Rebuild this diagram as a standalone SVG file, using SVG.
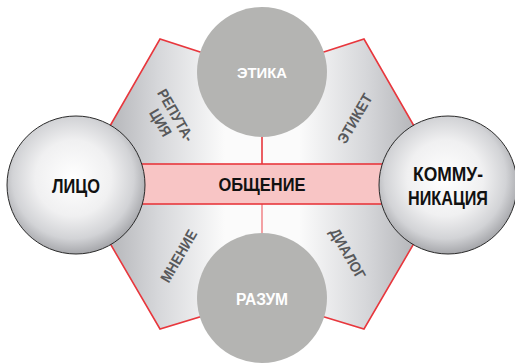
<svg xmlns="http://www.w3.org/2000/svg" width="515" height="364" viewBox="0 0 515 364">
<defs>
<linearGradient id="panelGrad" gradientUnits="userSpaceOnUse" x1="76" y1="0" x2="448" y2="0">
<stop offset="0" stop-color="#9fa0a4"/>
<stop offset="0.22" stop-color="#d6d7da"/>
<stop offset="0.4" stop-color="#fbfbfb"/>
<stop offset="0.6" stop-color="#fbfbfb"/>
<stop offset="0.78" stop-color="#d6d7da"/>
<stop offset="1" stop-color="#9fa0a4"/>
</linearGradient>
<radialGradient id="ballGrad" cx="0.48" cy="0.45" r="0.55">
<stop offset="0" stop-color="#ffffff"/>
<stop offset="0.5" stop-color="#f0f0f1"/>
<stop offset="0.8" stop-color="#d2d3d6"/>
<stop offset="1" stop-color="#a6a7ab"/>
</radialGradient>
<style>
.frame{fill:url(#panelGrad);stroke:#e8373d;stroke-width:1.6;stroke-linejoin:miter}
.link{stroke:#e8373d;stroke-width:1.6;fill:none}
.link2{stroke:#f07a7e;stroke-width:1.4;fill:none}
.band{fill:#f8c5c5;stroke:#e8373d;stroke-width:1.6}
.ball{fill:url(#ballGrad);stroke:#2a2a2a;stroke-width:1}
.gray{fill:#b4b4b2}
.t{font-family:"Liberation Sans",Arial,sans-serif;font-weight:bold;text-anchor:middle}
.dark{fill:#111111}
.white{fill:#ffffff}
.pl{fill:#58595b;font-size:15px}
</style>
</defs>
<g id="frame">
<polygon class="frame" points="262,72 364,39 448,185 364,329 262,298 160,329 76,185 160,39"/>
</g>
<g id="connectors">
<line class="link" x1="262" y1="130" x2="262" y2="164"/>
<line class="link2" x1="262" y1="204" x2="262" y2="240"/>
</g>
<g id="panel-labels">
<g id="label-reputation" transform="translate(176,115) rotate(60)">
<text class="t pl" x="0" y="5.5" textLength="58" lengthAdjust="spacingAndGlyphs">РЕПУТА-</text>
<text class="t pl" x="-1" y="22.5" textLength="29" lengthAdjust="spacingAndGlyphs">ЦИЯ</text>
</g>
<g id="label-etiket" transform="translate(354.5,118.5) rotate(-60)">
<text class="t pl" x="0" y="5.5" textLength="55" lengthAdjust="spacingAndGlyphs">ЭТИКЕТ</text>
</g>
<g id="label-mnenie" transform="translate(178.5,256) rotate(-60)">
<text class="t pl" x="0" y="5.5" textLength="58" lengthAdjust="spacingAndGlyphs">МНЕНИЕ</text>
</g>
<g id="label-dialog" transform="translate(348,253.5) rotate(60)">
<text class="t pl" x="0" y="5.5" textLength="56" lengthAdjust="spacingAndGlyphs">ДИАЛОГ</text>
</g>
</g>
<g id="obshchenie">
<rect class="band" x="130" y="164" width="264" height="40"/>
<text class="t dark" x="262" y="191" font-size="19" textLength="87" lengthAdjust="spacingAndGlyphs">ОБЩЕНИЕ</text>
</g>
<g id="etika">
<circle class="gray" cx="262" cy="72" r="65"/>
<text class="t white" x="262" y="77.5" font-size="15.5" textLength="50" lengthAdjust="spacingAndGlyphs">ЭТИКА</text>
</g>
<g id="razum">
<circle class="gray" cx="262" cy="298" r="65"/>
<text class="t white" x="262" y="305" font-size="16" textLength="52" lengthAdjust="spacingAndGlyphs">РАЗУМ</text>
</g>
<g id="litso">
<circle class="ball" cx="76" cy="185" r="69"/>
<text class="t dark" x="76" y="193" font-size="20.5" textLength="48" lengthAdjust="spacingAndGlyphs">ЛИЦО</text>
</g>
<g id="kommunikatsiya">
<circle class="ball" cx="448" cy="185" r="69"/>
<text class="t dark" x="448" y="181" font-size="20.5" textLength="70" lengthAdjust="spacingAndGlyphs">КОММУ-</text>
<text class="t dark" x="448" y="205" font-size="20.5" textLength="80" lengthAdjust="spacingAndGlyphs">НИКАЦИЯ</text>
</g>
</svg>
